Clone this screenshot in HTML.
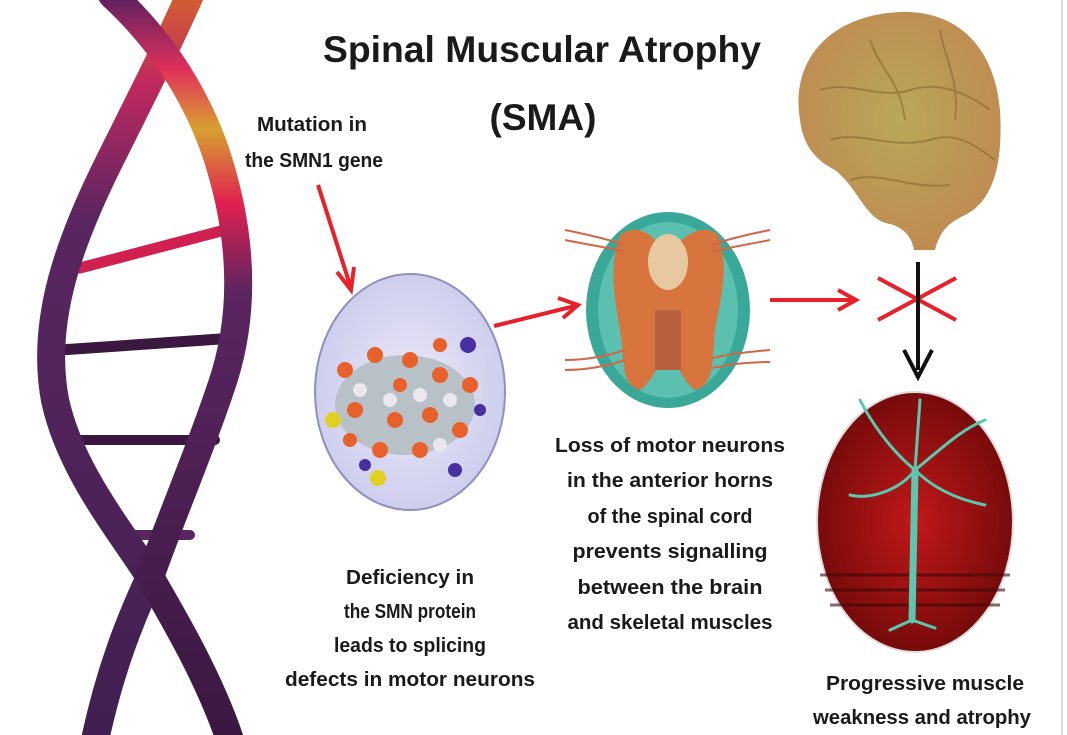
<!DOCTYPE html>
<html><head><meta charset="utf-8"><style>
html,body{margin:0;padding:0;background:#fff;}
svg{display:block;}
text{font-family:"Liberation Sans",sans-serif;font-weight:bold;fill:#1a1a1a;}
</style></head><body>
<svg width="1067" height="735" viewBox="0 0 1067 735" xmlns="http://www.w3.org/2000/svg">
<defs>
<linearGradient id="s1" x1="0" y1="0" x2="0" y2="1">
<stop offset="0" stop-color="#5a2060"/><stop offset="0.1" stop-color="#e0305a"/><stop offset="0.18" stop-color="#d8a030"/><stop offset="0.28" stop-color="#e02050"/><stop offset="0.4" stop-color="#5a2560"/><stop offset="1" stop-color="#3a1840"/>
</linearGradient>
<linearGradient id="s2" x1="0" y1="0" x2="0" y2="1">
<stop offset="0" stop-color="#d06030"/><stop offset="0.12" stop-color="#c02860"/><stop offset="0.3" stop-color="#5a2560"/><stop offset="1" stop-color="#402050"/>
</linearGradient>
<radialGradient id="lav" cx="0.5" cy="0.5" r="0.6"><stop offset="0" stop-color="#eceaf8"/><stop offset="1" stop-color="#c8c8ec"/></radialGradient>
<radialGradient id="red" cx="0.5" cy="0.5" r="0.6"><stop offset="0" stop-color="#c01818"/><stop offset="1" stop-color="#6a0808"/></radialGradient>
<radialGradient id="brain" cx="0.5" cy="0.45" r="0.6"><stop offset="0" stop-color="#b8a858"/><stop offset="1" stop-color="#c08850"/></radialGradient>
</defs>
<line x1="1062" y1="0" x2="1062" y2="735" stroke="#ddd" stroke-width="2"/>
<!-- DNA -->
<g fill="none" stroke-linecap="round">
<path d="M80,268 L225,230" stroke="#d02050" stroke-width="11"/>
<path d="M60,350 L235,338" stroke="#3a1840" stroke-width="11"/>
<path d="M80,440 L215,440" stroke="#3a1840" stroke-width="10"/>
<path d="M130,535 L190,535" stroke="#5a2560" stroke-width="10"/>
<path d="M190,-5 C170,40 150,80 110,160 C70,240 40,320 55,400 C70,470 120,530 150,577 C130,620 110,670 95,740" stroke="url(#s2)" stroke-width="28"/>
<path d="M112,-5 C150,30 190,80 215,150 C245,240 245,320 220,390 C200,450 170,520 150,577 C175,620 210,680 230,740" stroke="url(#s1)" stroke-width="28"/>
</g>
<!-- title -->
<text x="542" y="62" font-size="37" text-anchor="middle" textLength="438" lengthAdjust="spacingAndGlyphs">Spinal Muscular Atrophy</text>
<text x="543" y="130" font-size="37" text-anchor="middle" textLength="107" lengthAdjust="spacingAndGlyphs">(SMA)</text>
<g font-size="20">
<text x="312" y="131" text-anchor="middle" textLength="110" lengthAdjust="spacingAndGlyphs">Mutation in</text>
<text x="314" y="167" text-anchor="middle" textLength="138" lengthAdjust="spacingAndGlyphs">the SMN1 gene</text>
<text x="410" y="584" text-anchor="middle" textLength="128" lengthAdjust="spacingAndGlyphs">Deficiency in</text>
<text x="410" y="618" text-anchor="middle" textLength="132" lengthAdjust="spacingAndGlyphs">the SMN protein</text>
<text x="410" y="652" text-anchor="middle" textLength="152" lengthAdjust="spacingAndGlyphs">leads to splicing</text>
<text x="410" y="686" text-anchor="middle" textLength="250" lengthAdjust="spacingAndGlyphs">defects in motor neurons</text>
<text x="670" y="452" text-anchor="middle" textLength="230" lengthAdjust="spacingAndGlyphs">Loss of motor neurons</text>
<text x="670" y="487" text-anchor="middle" textLength="206" lengthAdjust="spacingAndGlyphs">in the anterior horns</text>
<text x="670" y="523" text-anchor="middle" textLength="165" lengthAdjust="spacingAndGlyphs">of the spinal cord</text>
<text x="670" y="558" text-anchor="middle" textLength="195" lengthAdjust="spacingAndGlyphs">prevents signalling</text>
<text x="670" y="594" text-anchor="middle" textLength="185" lengthAdjust="spacingAndGlyphs">between the brain</text>
<text x="670" y="629" text-anchor="middle" textLength="205" lengthAdjust="spacingAndGlyphs">and skeletal muscles</text>
<text x="925" y="690" text-anchor="middle" textLength="198" lengthAdjust="spacingAndGlyphs">Progressive muscle</text>
<text x="922" y="724" text-anchor="middle" textLength="218" lengthAdjust="spacingAndGlyphs">weakness and atrophy</text>
</g>
<!-- arrows -->
<g stroke="#e8202a" stroke-width="4" fill="none">
<line x1="318" y1="185" x2="350" y2="285"/><path d="M337,272 L351,290 L354,267"/>
<line x1="494" y1="326" x2="575" y2="306"/><path d="M558,298 L578,305 L563,318"/>
<line x1="770" y1="300" x2="853" y2="300"/><path d="M838,290 L856,300 L838,310"/>
<line x1="878" y1="278" x2="956" y2="320"/><line x1="878" y1="320" x2="956" y2="278"/>
</g>
<line x1="918" y1="262" x2="918" y2="370" stroke="#111" stroke-width="4"/>
<path d="M904,350 L918,377 L932,350" stroke="#111" stroke-width="4" fill="none"/>
<!-- molecule ellipse -->
<ellipse cx="410" cy="392" rx="95" ry="118" fill="url(#lav)" stroke="#9090c0" stroke-width="2"/>
<g>
<ellipse cx="405" cy="405" rx="70" ry="50" fill="#b8c0c8"/>
<g fill="#e8602a">
<circle cx="345" cy="370" r="8"/><circle cx="375" cy="355" r="8"/><circle cx="410" cy="360" r="8"/><circle cx="440" cy="375" r="8"/><circle cx="470" cy="385" r="8"/><circle cx="355" cy="410" r="8"/><circle cx="395" cy="420" r="8"/><circle cx="430" cy="415" r="8"/><circle cx="460" cy="430" r="8"/><circle cx="380" cy="450" r="8"/><circle cx="420" cy="450" r="8"/><circle cx="350" cy="440" r="7"/><circle cx="400" cy="385" r="7"/><circle cx="440" cy="345" r="7"/>
</g>
<g fill="#4830a0"><circle cx="468" cy="345" r="8"/><circle cx="455" cy="470" r="7"/><circle cx="365" cy="465" r="6"/><circle cx="480" cy="410" r="6"/></g>
<g fill="#e0d020"><circle cx="333" cy="420" r="8"/><circle cx="378" cy="478" r="8"/></g>
<g fill="#e8e8ee"><circle cx="360" cy="390" r="7"/><circle cx="420" cy="395" r="7"/><circle cx="450" cy="400" r="7"/><circle cx="390" cy="400" r="7"/><circle cx="440" cy="445" r="7"/></g>
</g>
<!-- spinal cord -->
<g>
<ellipse cx="668" cy="310" rx="82" ry="98" fill="#3aa898"/>
<ellipse cx="668" cy="310" rx="70" ry="88" fill="#5cc0b0"/>
<path d="M620,235 C640,220 660,240 668,260 C676,240 700,220 718,235 C730,270 720,300 715,330 C712,360 715,385 695,390 C680,380 670,350 668,330 C666,350 655,380 640,390 C620,385 625,360 620,330 C615,300 608,270 620,235Z" fill="#d8743e"/>
<rect x="655" y="310" width="26" height="60" fill="#b86040"/>
<ellipse cx="668" cy="262" rx="20" ry="28" fill="#e8c8a0"/>
<g stroke="#d06848" stroke-width="2" fill="none">
<path d="M565,230 C590,235 610,240 625,245"/><path d="M565,240 C590,245 610,248 625,252"/><path d="M770,230 C745,235 725,240 712,245"/><path d="M770,240 C745,245 725,248 712,252"/>
<path d="M565,360 C590,360 610,355 625,350"/><path d="M565,370 C590,370 610,365 625,360"/><path d="M770,350 C745,352 725,355 712,358"/><path d="M770,362 C745,362 725,365 712,368"/>
</g>
</g>
<!-- brain -->
<g>
<path d="M800,120 C790,60 830,15 900,12 C960,10 995,50 1000,110 C1003,160 995,200 965,215 C950,222 940,230 935,250 L914,250 C912,238 905,228 890,224 C865,220 860,190 835,170 C815,160 803,145 800,120Z" fill="url(#brain)"/>
<g stroke="#8a6a30" stroke-width="2" fill="none" opacity="0.6">
<path d="M820,90 C850,80 880,100 910,90 C940,80 970,95 990,110"/><path d="M830,140 C860,130 890,150 930,140 C960,130 980,150 995,160"/><path d="M850,180 C880,170 910,190 950,185"/><path d="M870,40 C880,70 900,80 905,120"/><path d="M940,30 C945,60 960,80 955,120"/>
</g>
</g>
<!-- neuron ellipse -->
<ellipse cx="915" cy="522" rx="98" ry="130" fill="url(#red)" stroke="#ddd" stroke-width="2"/>
<g stroke="#3a0808" stroke-width="3" opacity="0.6"><line x1="820" y1="575" x2="1010" y2="575"/><line x1="825" y1="590" x2="1005" y2="590"/><line x1="830" y1="605" x2="1000" y2="605"/></g>
<g stroke="#5ac8b0" fill="none" stroke-linecap="round">
<path d="M915,470 L912,620" stroke-width="7"/>
<path d="M915,470 C890,450 870,420 860,400" stroke-width="3"/>
<path d="M915,470 C940,450 960,430 985,420" stroke-width="3"/>
<path d="M915,470 C900,490 870,500 850,495" stroke-width="3"/>
<path d="M915,470 C935,490 960,500 985,505" stroke-width="3"/>
<path d="M915,470 L920,400" stroke-width="3"/>
<path d="M912,620 L890,630 M912,620 L935,628" stroke-width="3"/>
</g>
</svg>
</body></html>
